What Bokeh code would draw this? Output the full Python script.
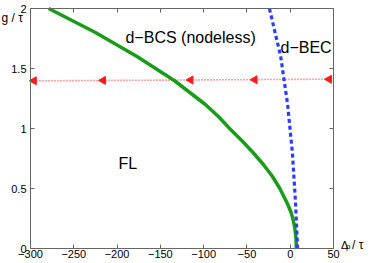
import math
from bokeh.plotting import figure
from bokeh.models import Range1d, LinearAxis, FixedTicker, Label
from bokeh.embed import file_html
from bokeh.resources import INLINE

# ---- data ----
x_ticks = [-300, -250, -200, -150, -100, -50, 0, 50]
x_tick_labels = ["\u2212300", "\u2212250", "\u2212200", "\u2212150", "\u2212100", "\u221250", "0", "50"]
y_ticks = [0, 0.5, 1, 1.5, 2]
y_tick_labels = ["0", "0.5", "1", "1.5", "2"]
x_min, x_max = -300, 50
y_min, y_max = 0, 2

# green phase boundary (FL / d-BCS)
green_g = [0, 0.05, 0.1, 0.15, 0.2, 0.25, 0.3, 0.35, 0.4, 0.5, 0.6, 0.7, 0.8, 0.9, 1.0, 1.1,
           1.2, 1.4, 1.6, 1.8, 2.0]
green_dp = [7, 6.9, 6.5, 5.7, 4.5, 3, 1, -1.8, -5, -12, -20.5, -31, -43, -56, -70, -83,
            -98, -134, -177, -225, -279]

# blue dotted boundary (d-BCS / d-BEC)
blue_g = [0, 0.4, 0.8, 1.2, 1.6, 2.0]
blue_dp = [8.5, 6, 2.5, -3, -11, -24]

# red dotted path with left-pointing arrows
red_line_dp = [-300, 50]
red_line_g = [1.397, 1.411]
arrow_dp = [-296, -216, -115, -41, 45]
arrow_g = [1.398, 1.401, 1.404, 1.406, 1.410]

FONT = "Liberation Sans"
W, H = 370, 262

# frame covers the whole canvas; the box (axes) sits at fixed data locations
px_per_x = 303 / 350.0
px_per_y = 240 / 2.0
xr = Range1d(x_min - 30 / px_per_x, x_max + (W - 333) / px_per_x)
yr = Range1d(y_min - (H - 248) / px_per_y, y_max + 8 / px_per_y)

p = figure(width=W, height=H, output_backend="svg", toolbar_location=None,
           x_range=xr, y_range=yr,
           min_border_left=0, min_border_right=0, min_border_top=0, min_border_bottom=0,
           background_fill_color="white", border_fill_color="white")
p.xgrid.visible = False
p.ygrid.visible = False
p.outline_line_color = None

AX_COLOR = "#666666"

def style_axis(ax, ticks, labels, show_labels, loc, bounds):
    ax.fixed_location = loc
    ax.bounds = bounds
    ax.ticker = FixedTicker(ticks=ticks)
    ax.axis_line_color = AX_COLOR
    ax.axis_line_width = 1
    ax.major_tick_line_color = AX_COLOR
    ax.major_tick_in = 4
    ax.major_tick_out = 0
    ax.minor_tick_line_color = None
    ax.major_label_text_font = FONT
    ax.major_label_text_color = "black"
    ax.major_label_text_font_size = "11px"
    if show_labels:
        ax.major_label_overrides = {t: l for t, l in zip(ticks, labels)}
    else:
        ax.major_label_overrides = {t: "" for t in ticks}
    ax.major_label_standoff = 1

style_axis(p.xaxis[0], x_ticks, x_tick_labels, True, y_min, (x_min, x_max))
style_axis(p.yaxis[0], y_ticks, y_tick_labels, True, x_min, (y_min, y_max))
p.yaxis[0].major_label_standoff = 4

top_ax = LinearAxis()
style_axis(top_ax, x_ticks, x_tick_labels, False, y_max, (x_min, x_max))
p.add_layout(top_ax, "above")
right_ax = LinearAxis()
style_axis(right_ax, y_ticks, y_tick_labels, False, x_max, (y_min, y_max))
p.add_layout(right_ax, "right")

# curves
p.line(red_line_dp, red_line_g, line_color="#ff2a2a", line_width=1.6, line_dash="1 2", line_alpha=0.85)
p.scatter(arrow_dp, arrow_g, marker="triangle", angle=math.pi / 2, size=8,
          fill_color="#ff1a1a", line_color="#ff1a1a")
p.line(green_dp, green_g, line_color="#1a9c1a", line_width=3.5, line_join="round")
p.line(blue_dp, blue_g, line_color="#2b3dff", line_width=3.2, line_dash="4 3")

def txt(x, y, s, size):
    p.add_layout(Label(x=x, y=y, text=s, text_font=FONT, text_font_size=size,
                       text_color="black", text_baseline="alphabetic"))

# region labels
txt(-190.3, 1.7625, "d\u2212BCS (nodeless)", "16px")
txt(-11.2, 1.675, "d\u2212BEC", "16px")
txt(-198.3, 0.708, "FL", "16px")

# axis labels
txt(58.7, 0.029, "\u0394", "11px")
txt(64.5, 0.017, "p", "8px")
txt(71.4, 0.029, "/ \u03c4", "12px")
txt(-333.5, 1.925, "g / \u03c4", "12px")

open("out.html", "w").write(file_html(p, INLINE))
